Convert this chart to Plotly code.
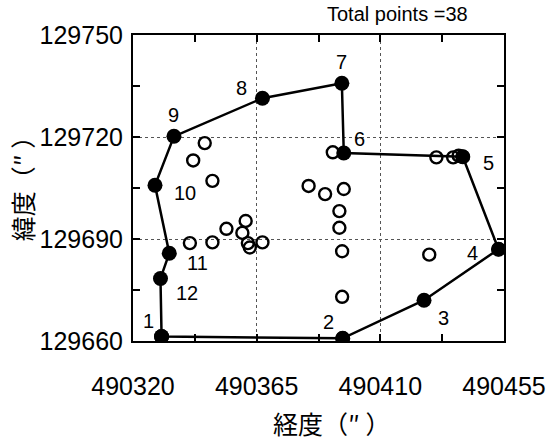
import plotly.graph_objects as go

# Boundary (hull) points, numbered 1..12, in arc-seconds
hull_lon = [490330.4, 490396.3, 490425.9, 490453.0, 490440.0, 490396.7,
            490396.0, 490367.1, 490334.9, 490328.0, 490333.2, 490330.0]
hull_lat = [129661.3, 129660.8, 129672.0, 129687.0, 129714.2, 129715.3,
            129735.8, 129731.4, 129720.2, 129705.8, 129685.8, 129678.4]
hull_ids = ["1", "2", "3", "4", "5", "6", "7", "8", "9", "10", "11", "12"]

# Interior points (the last three coincide with hull points 4, 5 and 2)
inner_lon = [490346.1, 490341.9, 490348.9, 490392.7, 490383.9, 490389.9,
             490396.7, 490395.1, 490395.1, 490396.1, 490396.1, 490427.8,
             490430.4, 490436.5, 490438.5, 490340.7, 490348.9, 490354.0,
             490361.0, 490359.8, 490361.8, 490362.5, 490367.1,
             490453.0, 490440.0, 490396.3]
inner_lat = [129718.2, 129713.1, 129707.1, 129715.5, 129705.6, 129703.2,
             129704.7, 129698.2, 129693.3, 129686.4, 129673.0, 129685.4,
             129714.0, 129714.0, 129714.5, 129688.8, 129689.0, 129693.0,
             129695.3, 129691.8, 129688.8, 129687.5, 129689.0,
             129687.0, 129714.2, 129660.8]

x_ticks = [490320, 490365, 490410, 490455]
y_ticks = [129660, 129690, 129720, 129750]
total_points = 38

# pixel offsets of each number label from its point (dx right, dy up)
label_dx = [-13, -14, 19, -26, 26, 16, 0, -21, 0, 30, 28, 27]
label_dy = [16, 16, -18, -4, -6, 14, 21, 10, 21, -8, -10, -15]

num_font = "Liberation Sans, Arial, sans-serif"
cjk_font = "Noto Sans CJK JP"

fig = go.Figure()

fig.add_trace(go.Scatter(
    x=inner_lon, y=inner_lat, mode="markers",
    marker=dict(symbol="circle-open", size=12, color="black",
                line=dict(width=2.4, color="black")),
    showlegend=False, cliponaxis=True,
))

fig.add_trace(go.Scatter(
    x=hull_lon + hull_lon[:1], y=hull_lat + hull_lat[:1], mode="lines+markers",
    line=dict(color="black", width=2.5),
    marker=dict(symbol="circle", size=15, color="black"),
    showlegend=False, cliponaxis=True,
))

for xi, yi, t, dx, dy in zip(hull_lon, hull_lat, hull_ids, label_dx, label_dy):
    fig.add_annotation(x=xi, y=yi, text=t, showarrow=False,
                       xshift=dx, yshift=dy,
                       font=dict(family=num_font, size=20, color="black"))

fig.add_annotation(xref="paper", yref="paper", x=0.712, y=1.069,
                   xanchor="center", yanchor="middle",
                   text=f"Total points ={total_points}", showarrow=False,
                   font=dict(family=num_font, size=20, color="black"))

fig.add_annotation(xref="paper", yref="paper", x=0.534, y=-0.268,
                   text="経度（″ ）", showarrow=False,
                   xanchor="center", yanchor="middle",
                   font=dict(family=cjk_font, size=25, color="black"))

fig.add_annotation(xref="paper", yref="paper", x=-0.299, y=0.516,
                   text="緯度（″ ）", showarrow=False, textangle=-90,
                   xanchor="center", yanchor="middle",
                   font=dict(family=cjk_font, size=25, color="black"))

axis_common = dict(
    showline=True, linecolor="black", linewidth=2, mirror="ticks",
    ticks="inside", ticklen=7, tickwidth=2, tickcolor="black",
    showgrid=True, gridcolor="#555555", gridwidth=1, griddash="dot",
    zeroline=False, automargin=False,
    tickfont=dict(family=num_font, size=25, color="black"),
    minor=dict(ticks="inside", ticklen=7, tickwidth=2, tickcolor="black",
               showgrid=False),
)

fig.update_xaxes(range=[x_ticks[0], x_ticks[-1]], tickmode="array",
                 tickvals=x_ticks, ticktext=[str(v) for v in x_ticks],
                 minor_tickvals=[490342.5, 490387.5, 490432.5],
                 ticklabelstandoff=22, **axis_common)
fig.update_yaxes(range=[y_ticks[0], y_ticks[-1]], tickmode="array",
                 tickvals=y_ticks, ticktext=[str(v) for v in y_ticks],
                 minor_tickvals=[129675, 129705, 129735],
                 ticklabelstandoff=3, **axis_common)

fig.update_layout(
    width=549, height=443,
    margin=dict(l=133, r=45, t=35, b=102),
    plot_bgcolor="white", paper_bgcolor="white",
    showlegend=False,
)

fig.write_html("out.html")
